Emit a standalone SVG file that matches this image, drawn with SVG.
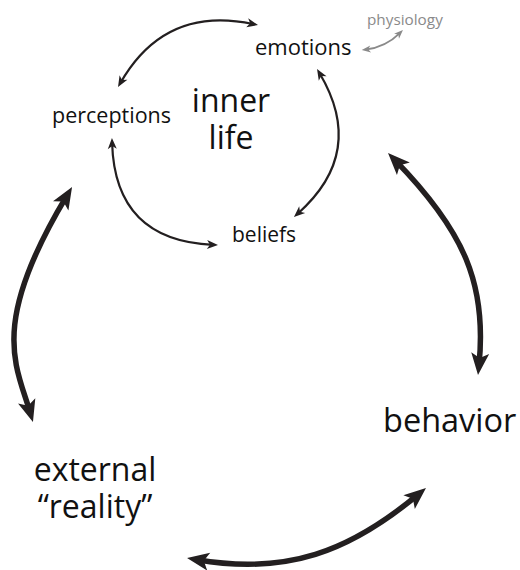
<svg xmlns="http://www.w3.org/2000/svg" width="520" height="570" viewBox="0 0 520 570">
  <style>
    .lbl { font-family: "Open Sans", "Liberation Sans", sans-serif; fill: #111; }
    .sm { font-size: 21.5px; }
    .lg { font-size: 32px; }
    .phys { font-size: 15.3px; fill: #8a8a8a; }
    .thin { fill: none; stroke: #231f20; stroke-width: 2.2; marker-start: url(#hs); marker-end: url(#hs); }
    .thick { fill: none; stroke: #231f20; stroke-width: 5.5; marker-start: url(#hb); marker-end: url(#hb); }
    .gray { fill: none; stroke: #8a8a8a; stroke-width: 1.8; marker-start: url(#hg); marker-end: url(#hg); }
  </style>
  <defs>
    <marker id="hs" markerUnits="userSpaceOnUse" markerWidth="12" markerHeight="10" refX="6" refY="4.5" orient="auto-start-reverse" overflow="visible">
      <path d="M0,0 L11,4.5 L0,9 L3,4.5 z" fill="#231f20"/>
    </marker>
    <marker id="hb" markerUnits="userSpaceOnUse" markerWidth="24" markerHeight="20" refX="12" refY="9" orient="auto-start-reverse" overflow="visible">
      <path d="M0,0 L22,9 L0,18 L5,9 z" fill="#231f20"/>
    </marker>
    <marker id="hg" markerUnits="userSpaceOnUse" markerWidth="10" markerHeight="8" refX="5" refY="3.5" orient="auto-start-reverse" overflow="visible">
      <path d="M0,0 L9,3.5 L0,7 L2.5,3.5 z" fill="#8a8a8a"/>
    </marker>
  </defs>

  <g id="connectors">
    <path class="thin" d="M120.5,82.7 Q165,5 253.1,24"/>
    <path class="thin" d="M112.1,143 Q115,240.7 213,244.8"/>
    <path class="thin" d="M319.6,73.3 Q366.7,152.6 297.7,213.7"/>
    <path class="gray" d="M365.7,49.5 Q385.5,47.2 400.1,32.8"/>
    <path class="thick" d="M66.9,195.6 C-11,325 16,365 30.1,412.4"/>
    <path class="thick" d="M395,160.2 C465,232 487,285 479,365"/>
    <path class="thick" d="M196.9,559.7 C287,575 349,552 418.3,494.4"/>
  </g>

  <g id="node-emotions">
    <text class="lbl sm" x="255" y="55" style="font-size:22px">emotions</text>
  </g>
  <g id="node-physiology">
    <text class="lbl phys" x="367" y="25">physiology</text>
  </g>
  <g id="node-perceptions">
    <text class="lbl sm" x="52" y="123">perceptions</text>
  </g>
  <g id="node-beliefs">
    <text class="lbl sm" x="232" y="242" style="font-size:21px">beliefs</text>
  </g>
  <g id="node-inner-life">
    <text class="lbl lg" text-anchor="middle"><tspan x="231" y="112">inner</tspan><tspan x="231" y="149">life</tspan></text>
  </g>
  <g id="node-behavior">
    <text class="lbl lg" x="383" y="432" style="font-size:32.5px">behavior</text>
  </g>
  <g id="node-external-reality">
    <text class="lbl lg" text-anchor="middle"><tspan x="95" y="481">external</tspan><tspan x="95" y="518">“reality”</tspan></text>
  </g>
</svg>
